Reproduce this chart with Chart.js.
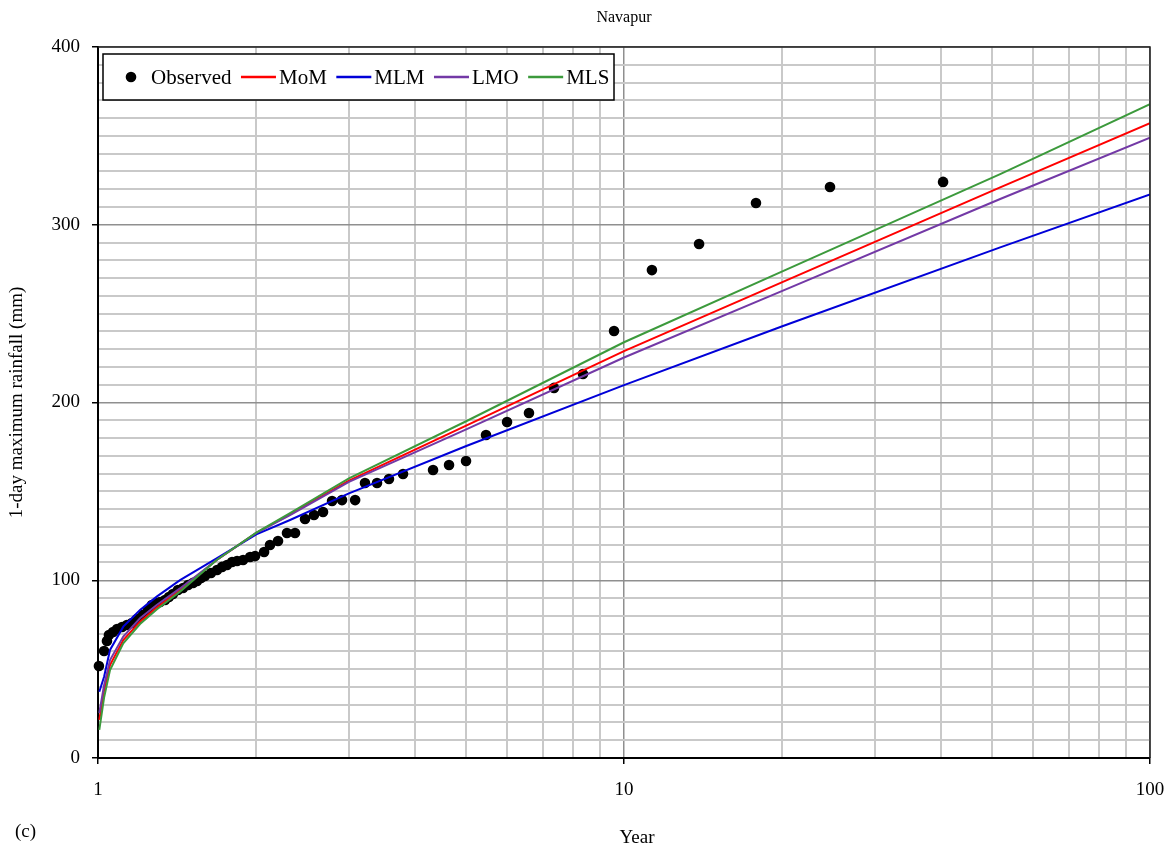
<!DOCTYPE html>
<html>
<head>
<meta charset="utf-8">
<title>Navapur</title>
<script src="https://cdn.jsdelivr.net/npm/chart.js@4/dist/chart.umd.min.js"></script>
<style>
  html, body { margin: 0; padding: 0; background: #ffffff; }
  #wrap { width: 1174px; height: 850px; }
</style>
</head>
<body>
<div id="wrap"><canvas id="chart" width="1174" height="850"></canvas></div>
<script>
// Observed annual 1-day maximum rainfall, plotted at its return period (years)
const observedYears = [
  1.004, 1.027, 1.040, 1.049, 1.068, 1.087, 1.111, 1.135, 1.160, 1.186,
  1.218, 1.245, 1.266, 1.289, 1.312, 1.341, 1.364, 1.388, 1.419, 1.451,
  1.483, 1.516, 1.543, 1.570, 1.597, 1.640, 1.684, 1.721, 1.759, 1.798,
  1.838, 1.887, 1.946, 1.989, 2.069, 2.123, 2.199, 2.287, 2.369, 2.475,
  2.574, 2.678, 2.786, 2.910, 3.082, 3.218, 3.392, 3.574, 3.801, 4.335,
  4.649, 5.008, 5.466, 5.993, 6.597, 7.361, 8.357, 9.573, 11.30, 13.89,
  17.82, 24.64, 40.42
];
const observedRain = [
  51.8, 60.2, 65.8, 69.2, 70.9, 72.6, 73.7, 74.8, 75.9, 78.2,
  80.5, 83.3, 86.1, 87.2, 87.8, 88.9, 90.6, 92.3, 94.5, 95.6,
  97.3, 98.5, 99.6, 101.3, 102.4, 104.1, 105.8, 107.5, 108.6, 110.3,
  110.8, 111.4, 113.1, 113.6, 115.9, 119.8, 122.1, 126.6, 126.6, 134.5,
  136.7, 138.4, 144.6, 145.1, 145.1, 154.7, 154.7, 157.0, 159.8, 162.0,
  164.8, 167.1, 181.7, 189.0, 194.1, 208.2, 216.0, 240.2, 274.5, 289.2,
  312.2, 321.2, 324.1
];

// Fitted quantile curves (mm) at these return periods (years)
const curveYears = [1.0057, 1.027, 1.054, 1.117, 1.202, 1.293, 1.432, 1.681, 2.0, 2.318, 3, 5, 10, 20, 51.9, 100];
const momRain = [21.4, 38.0, 52.3, 66.4, 76.7, 84.7, 94.5, 111.4, 126.6, 137.1, 156.0, 186.8, 228.9, 267.7, 321.0, 357.2];
const mlmRain = [37.3, 45.7, 60.8, 73.9, 83.3, 90.8, 100.1, 112.3, 125.8, 133.9, 148.9, 175.4, 209.8, 242.9, 287.3, 317.1];
const lmoRain = [25.3, 41.0, 55.1, 68.3, 78.6, 86.1, 95.4, 111.4, 126.6, 136.7, 155.3, 184.7, 225.3, 262.8, 314.5, 349.0];
const mlsRain = [15.8, 34.0, 49.5, 64.5, 75.4, 83.6, 93.6, 111.4, 126.8, 137.7, 157.3, 189.3, 233.9, 273.8, 328.5, 367.9];

const seriesNames = ['Observed', 'MoM', 'MLM', 'LMO', 'MLS'];
const seriesColors = ['#000000', '#ff0000', '#0000d8', '#7339a6', '#3c9a3c'];

// Axis ticks
const yearTicks = [1, 2, 3, 4, 5, 6, 7, 8, 9, 10, 20, 30, 40, 50, 60, 70, 80, 90, 100];
const yearLabels = [1, 10, 100];
const rainLabelStep = 100;

const SERIF = '"Liberation Serif", "Times New Roman", serif';

function toPoints(xs, ys) {
  return xs.map((x, i) => ({ x: x, y: ys[i] }));
}

function lineSet(idx, values, order) {
  return {
    label: seriesNames[idx],
    data: toPoints(curveYears, values),
    showLine: true,
    borderColor: seriesColors[idx],
    backgroundColor: seriesColors[idx],
    borderWidth: 2,
    pointRadius: 0,
    pointHoverRadius: 0,
    tension: 0,
    order: order
  };
}

// Boxed legend drawn inside the plot area, plus frame and panel tag
const decorations = {
  id: 'decorations',
  afterDatasetsDraw(chart) {
    const { ctx, chartArea } = chart;
    ctx.save();
    // plot frame (top and right edges)
    ctx.strokeStyle = '#222222';
    ctx.lineWidth = 1.5;
    ctx.beginPath();
    ctx.moveTo(chartArea.left, chartArea.top);
    ctx.lineTo(chartArea.right, chartArea.top);
    ctx.lineTo(chartArea.right, chartArea.bottom);
    ctx.stroke();

    // legend box
    const bx = 103, by = 54, bw = 511, bh = 46;
    ctx.fillStyle = '#ffffff';
    ctx.fillRect(bx, by, bw, bh);
    ctx.strokeStyle = '#000000';
    ctx.lineWidth = 1.5;
    ctx.strokeRect(bx, by, bw, bh);

    ctx.font = '21px ' + SERIF;
    ctx.textBaseline = 'middle';
    ctx.textAlign = 'left';
    const cy = by + bh / 2 + 1;
    let x = 131;
    seriesNames.forEach((name, i) => {
      if (i === 0) {
        ctx.fillStyle = seriesColors[0];
        ctx.beginPath();
        ctx.arc(x, cy - 1, 5.3, 0, Math.PI * 2);
        ctx.fill();
        x += 20;
      } else {
        ctx.strokeStyle = seriesColors[i];
        ctx.lineWidth = 2.5;
        ctx.beginPath();
        ctx.moveTo(x, cy - 1);
        ctx.lineTo(x + 35, cy - 1);
        ctx.stroke();
        x += 38;
      }
      ctx.fillStyle = '#000000';
      ctx.fillText(name, x, cy);
      x += ctx.measureText(name).width + 9.5;
    });

    // axis title and panel tag
    ctx.font = '19px ' + SERIF;
    ctx.textAlign = 'center';
    ctx.fillText('Year', 637, 838);
    ctx.textAlign = 'left';
    ctx.fillText('(c)', 15, 832);
    ctx.restore();
  }
};

new Chart(document.getElementById('chart'), {
  type: 'scatter',
  data: {
    datasets: [
      {
        label: seriesNames[0],
        data: toPoints(observedYears, observedRain),
        backgroundColor: seriesColors[0],
        borderColor: seriesColors[0],
        borderWidth: 0,
        pointRadius: 5.3,
        pointHoverRadius: 5.3,
        showLine: false,
        clip: false,
        order: 5
      },
      lineSet(1, momRain, 4),
      lineSet(2, mlmRain, 3),
      lineSet(3, lmoRain, 2),
      lineSet(4, mlsRain, 1)
    ]
  },
  options: {
    responsive: false,
    animation: false,
    devicePixelRatio: 1,
    layout: { padding: { top: 0, right: 24, bottom: 0, left: 0 } },
    plugins: {
      legend: { display: false },
      tooltip: { enabled: false },
      title: {
        display: true,
        text: 'Navapur',
        fullSize: false,
        color: '#000000',
        font: { family: SERIF, size: 16, weight: 'normal', lineHeight: 1.2 },
        padding: { top: 8, bottom: 19.8 }
      }
    },
    scales: {
      x: {
        type: 'logarithmic',
        min: 1,
        max: 100,
        afterBuildTicks(scale) {
          scale.ticks = yearTicks.map(v => ({ value: v }));
        },
        afterFit(scale) {
          scale.height = 92;
          scale.paddingLeft = 0;
          scale.paddingRight = 0;
        },
        ticks: {
          autoSkip: false,
          maxRotation: 0,
          padding: 15,
          color: '#000000',
          font: { family: SERIF, size: 19 },
          callback: (v) => yearLabels.includes(v) ? String(v) : ''
        },
        grid: {
          color: (c) => yearLabels.includes(c.tick && c.tick.value) ? '#8f8f8f' : '#c9c9c9',
          lineWidth: (c) => yearLabels.includes(c.tick && c.tick.value) ? 1.5 : 2,
          tickLength: 6,
          tickColor: (c) => yearLabels.includes(c.tick && c.tick.value) ? '#000000' : 'rgba(0,0,0,0)'
        },
        border: { display: true, color: '#000000', width: 2 }
      },
      y: {
        min: 0,
        max: 400,
        afterFit(scale) { scale.width = 98; },
        ticks: {
          stepSize: 10,
          autoSkip: false,
          padding: 12,
          color: '#000000',
          font: { family: SERIF, size: 19 },
          callback: (v) => v % rainLabelStep === 0 ? String(v) : ''
        },
        grid: {
          color: (c) => c.tick && c.tick.value % rainLabelStep === 0 ? '#8f8f8f' : '#c9c9c9',
          lineWidth: (c) => c.tick && c.tick.value % rainLabelStep === 0 ? 1.5 : 2,
          tickLength: 6,
          tickColor: (c) => c.tick && c.tick.value % rainLabelStep === 0 ? '#000000' : 'rgba(0,0,0,0)'
        },
        border: { display: true, color: '#000000', width: 2 },
        title: {
          display: true,
          text: '1-day maximum rainfall (mm)',
          color: '#000000',
          font: { family: SERIF, size: 19, lineHeight: 1.2 },
          padding: { top: 5.6, bottom: 0 }
        }
      }
    }
  },
  plugins: [decorations]
});
</script>
</body>
</html>
